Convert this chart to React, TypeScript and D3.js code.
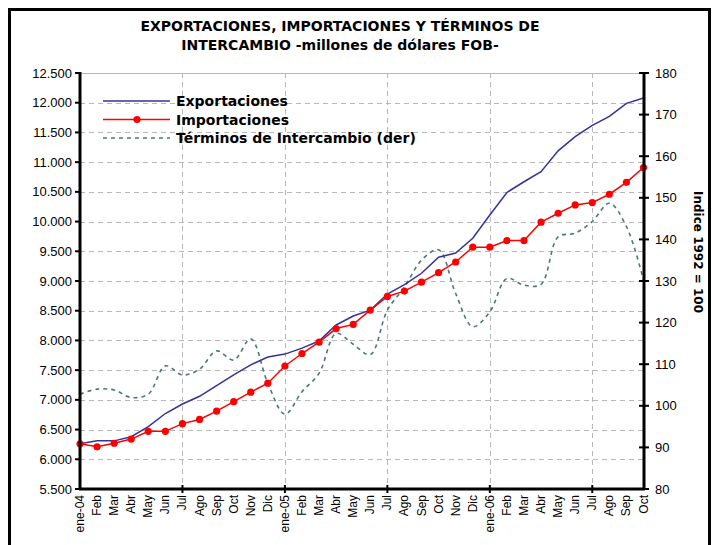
import React from 'react';
import * as d3 from 'd3';

const meses = [
  'ene-04', 'Feb', 'Mar', 'Abr', 'May', 'Jun', 'Jul', 'Ago', 'Sep', 'Oct', 'Nov', 'Dic',
  'ene-05', 'Feb', 'Mar', 'Abr', 'May', 'Jun', 'Jul', 'Ago', 'Sep', 'Oct', 'Nov', 'Dic',
  'ene-06', 'Feb', 'Mar', 'Abr', 'May', 'Jun', 'Jul', 'Ago', 'Sep', 'Oct',
];

// millones de dólares FOB
const exportaciones = [
  6260, 6310, 6310, 6380, 6550, 6770, 6930, 7060, 7240, 7420, 7590, 7720,
  7770, 7870, 7990, 8260, 8410, 8510, 8780, 8940, 9130, 9400, 9470, 9720,
  10110, 10490, 10670, 10840, 11190, 11430, 11620, 11770, 11990, 12080,
];

const importaciones = [
  6260, 6210, 6270, 6340, 6470, 6470, 6600, 6670, 6810, 6970, 7130, 7280,
  7570, 7780, 7970, 8200, 8270, 8510, 8740, 8830, 8980, 9140, 9320, 9570,
  9570, 9680, 9680, 9990, 10140, 10280, 10320, 10460, 10660, 10910,
];

// índice 1992 = 100 (eje derecho)
const terminos = [
  102.8, 104.0, 103.8, 102.0, 102.8, 109.6, 107.4, 108.8, 113.2, 111.0, 116.1, 105.4,
  98.0, 103.4, 107.8, 117.4, 114.8, 112.3, 123.0, 128.5, 135.0, 137.5, 127.0, 119.0,
  122.6, 130.6, 129.0, 129.2, 140.6, 141.5, 144.3, 148.7, 143.1, 130.2,
];

const ticksIzq = d3.range(5500, 12501, 500);
const ticksDer = d3.range(80, 181, 10);

const fmt = d3.formatLocale({ decimal: ',', thousands: '.', grouping: [3], currency: ['', ''] }).format(',');

const W = 712;
const H = 545;
const AXIS_FONT = '"Liberation Sans", Arial, sans-serif';
const BOLD_FONT = '"DejaVu Sans", Verdana, sans-serif';
const AZUL = '#333399';
const ROJO = '#ff0000';
const VERDE = '#4a7878';
const GRIS = '#b8b8b8';

export default function App() {
  const left = 80;
  const right = 644;
  const top = 73;
  const bottom = 489;

  const x = d3.scaleLinear().domain([0, meses.length - 1]).range([left, right - 0.5]);
  const yL = d3.scaleLinear().domain([5500, 12500]).range([bottom, top]);
  const yR = d3.scaleLinear().domain([80, 180]).range([bottom, top]);

  const lineaIzq = d3.line<number>().x((_, i) => x(i)).y(d => yL(d));
  const lineaDer = d3.line<number>().x((_, i) => x(i)).y(d => yR(d)).curve(d3.curveCatmullRom.alpha(0.5));

  const verticales = meses.map((_, i) => i).filter(i => i > 0 && i % 6 === 0);

  const leyenda = [
    { label: 'Exportaciones', color: AZUL, dash: undefined, marker: false },
    { label: 'Importaciones', color: ROJO, dash: undefined, marker: true },
    { label: 'Términos de Intercambio (der)', color: VERDE, dash: '4,4', marker: false },
  ];

  return (
    <svg width={W} height={H} style={{ position: 'absolute', left: 0, top: 0, background: '#fff' }}>
      <rect x={9.5} y={9.5} width={700} height={600} fill="#fff" stroke="#000" strokeWidth={3} />

      <text x={340} y={31} textAnchor="middle" fontFamily={BOLD_FONT} fontWeight="bold" fontSize={14}>
        EXPORTACIONES, IMPORTACIONES Y TÉRMINOS DE
      </text>
      <text x={340} y={50} textAnchor="middle" fontFamily={BOLD_FONT} fontWeight="bold" fontSize={14}>
        INTERCAMBIO -millones de dólares FOB-
      </text>

      {/* rejilla */}
      <line x1={left} x2={right} y1={top + 0.5} y2={top + 0.5} stroke={GRIS} strokeWidth={1} />
      {ticksIzq.filter(t => t > 5500 && t < 12500).map(t => (
        <line key={t} x1={left} x2={right} y1={Math.round(yL(t)) + 0.5} y2={Math.round(yL(t)) + 0.5}
          stroke={GRIS} strokeWidth={1} strokeDasharray="5,4" />
      ))}
      {verticales.map(i => (
        <line key={i} x1={Math.round(x(i)) + 0.5} x2={Math.round(x(i)) + 0.5} y1={top} y2={bottom}
          stroke={GRIS} strokeWidth={1} strokeDasharray="5,4" />
      ))}

      {/* series */}
      <path d={lineaDer(terminos) || ''} fill="none" stroke={VERDE} strokeWidth={1.6} strokeDasharray="4,4" />
      <path d={lineaIzq(exportaciones) || ''} fill="none" stroke={AZUL} strokeWidth={1.5} />
      <path d={lineaIzq(importaciones) || ''} fill="none" stroke={ROJO} strokeWidth={1.5} />
      {importaciones.map((d, i) => (
        <circle key={i} cx={x(i)} cy={yL(d)} r={3.6} fill={ROJO} />
      ))}

      {/* eje izquierdo */}
      <line x1={left} x2={left} y1={top - 1} y2={bottom + 1} stroke="#000" strokeWidth={3} />
      {ticksIzq.map(t => (
        <g key={t}>
          <line x1={left - 5} x2={left} y1={yL(t)} y2={yL(t)} stroke="#000" strokeWidth={2} />
          <text x={72} y={yL(t) + 4.5} textAnchor="end" fontFamily={AXIS_FONT} fontSize={13}>{fmt(t)}</text>
        </g>
      ))}

      {/* eje derecho */}
      <line x1={right} x2={right} y1={top - 1} y2={bottom + 1} stroke="#000" strokeWidth={3} />
      {ticksDer.map(t => (
        <g key={t}>
          <line x1={right - 5} x2={right + 5} y1={yR(t)} y2={yR(t)} stroke="#000" strokeWidth={2} />
          <text x={655} y={yR(t) + 4.5} fontFamily={AXIS_FONT} fontSize={13}>{t}</text>
        </g>
      ))}
      <text transform={`translate(694,252) rotate(90)`} textAnchor="middle" fontFamily={BOLD_FONT}
        fontWeight="bold" fontSize={12}>
        Indice 1992 = 100
      </text>

      {/* eje x */}
      <line x1={left - 1} x2={right + 1} y1={bottom} y2={bottom} stroke="#000" strokeWidth={3} />
      {verticales.map(i => (
        <line key={i} x1={x(i)} x2={x(i)} y1={bottom - 4} y2={bottom + 4} stroke="#000" strokeWidth={2} />
      ))}
      {meses.map((m, i) => (
        <text key={i} transform={`translate(${x(i) + 4},495) rotate(-90)`} textAnchor="end"
          fontFamily={AXIS_FONT} fontSize={12}>
          {m}
        </text>
      ))}

      {/* leyenda */}
      {leyenda.map((l, k) => {
        const yy = 101 + k * 18.5;
        return (
          <g key={l.label}>
            <line x1={103} x2={170} y1={yy} y2={yy} stroke={l.color} strokeWidth={1.5} strokeDasharray={l.dash} />
            {l.marker && <circle cx={137} cy={yy} r={3.6} fill={l.color} />}
            <text x={176} y={yy + 5} fontFamily={BOLD_FONT} fontWeight="bold" fontSize={14}>{l.label}</text>
          </g>
        );
      })}
    </svg>
  );
}
